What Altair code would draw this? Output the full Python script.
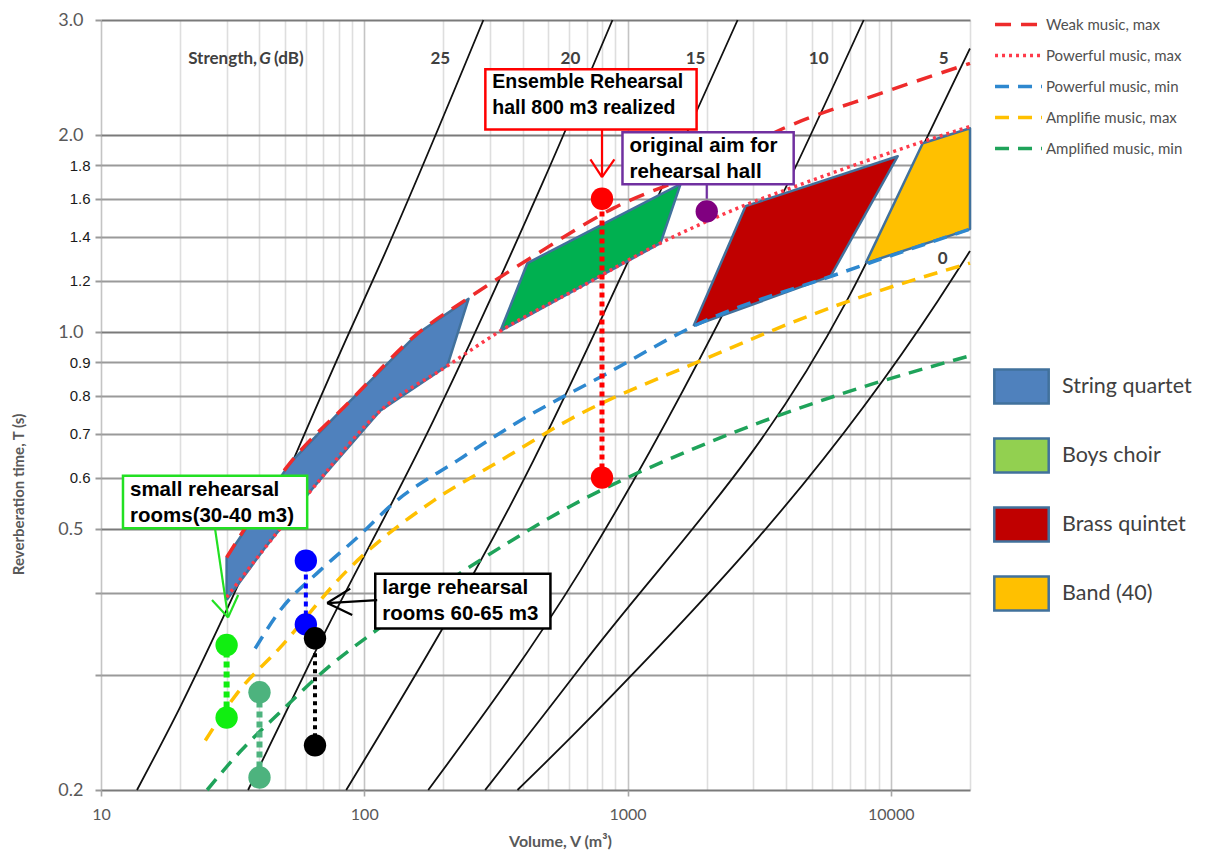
import altair as alt
import pandas as pd

# ---------------- axis ticks ----------------
x_ticks = [10, 20, 30, 40, 50, 60, 70, 80, 90,
           100, 200, 300, 400, 500, 600, 700, 800, 900,
           1000, 2000, 3000, 4000, 5000, 6000, 7000, 8000, 9000,
           10000, 20000]
x_labelled = [10, 100, 1000, 10000]
y_ticks = [0.2, 0.3, 0.4, 0.5, 0.6, 0.7, 0.8, 0.9, 1.0, 1.2, 1.4, 1.6, 1.8, 2.0, 3.0]
y_big = [0.2, 0.5, 1.0, 2.0, 3.0]

# ---------------- strength (G) lines ----------------
g25_V = [13.7, 20.0, 29.1, 87.7, 115, 283.5]
g25_T = [0.2, 0.268, 0.367, 1.0, 1.272, 3.0]
g20_V = [36.2, 66.3, 183, 479, 877]
g20_T = [0.2, 0.330, 0.733, 1.702, 3.0]
g15_V = [85.4, 439, 1027, 2620]
g15_T = [0.2, 0.637, 1.308, 3.0]
g10_V = [175, 663, 3815, 7895]
g10_T = [0.2, 0.433, 1.603, 3.0]
g5_V = [288, 663, 6804, 14700, 20000]
g5_T = [0.2, 0.308, 1.117, 2.10, 2.714]
g0_V = [382, 663, 15090, 20000]
g0_T = [0.2, 0.249, 1.117, 1.331]

g_label_text = ["25", "20", "15", "10", "5", "0"]
g_label_V = [194.5, 607, 1814, 5324, 15900, 15750]
g_label_T = [2.612, 2.612, 2.612, 2.612, 2.612, 1.294]

# ---------------- music curves ----------------
curve_names = ["Weak music, max", "Powerful music, max", "Powerful music, min",
               "Amplifie music, max", "Amplified music, min"]
weak_max_V = [30, 52.3, 88.5, 159, 249, 428, 885, 1895, 3920, 9160, 20000]
weak_max_T = [0.453, 0.632, 0.786, 0.995, 1.129, 1.299, 1.548, 1.762, 2.05, 2.318, 2.576]
pow_max_V = [30, 42, 64, 115, 207, 329, 663, 1335, 1895, 2860, 4167, 13350, 20000]
pow_max_T = [0.394, 0.469, 0.579, 0.759, 0.889, 1.005, 1.173, 1.369, 1.463, 1.570, 1.661, 1.958, 2.063]
pow_min_V = [38.5, 47.9, 68.0, 94.1, 128.9, 225.7, 402.4, 803, 1895, 6288, 20000]
pow_min_T = [0.329, 0.376, 0.433, 0.486, 0.548, 0.637, 0.738, 0.858, 1.034, 1.228, 1.438]
amp_max_V = [24.9, 32.9, 47.9, 86.2, 183, 329, 591, 1895, 6455, 20000]
amp_max_T = [0.238, 0.281, 0.330, 0.433, 0.553, 0.637, 0.733, 0.905, 1.105, 1.276]
amp_min_V = [25.3, 33.8, 47.9, 72.3, 108.2, 246.4, 662.8, 1895, 7044, 20000]
amp_min_T = [0.2, 0.229, 0.263, 0.307, 0.348, 0.436, 0.553, 0.671, 0.814, 0.921]

# ---------------- ensemble regions ----------------
ens_names = ["String quartet", "Boys choir", "Brass quintet", "Band (40)"]
string_V = [30, 30, 52.3, 88.5, 159, 249, 206.8, 115, 64, 42, 30]
string_T = [0.390, 0.453, 0.632, 0.786, 0.995, 1.125, 0.889, 0.759, 0.579, 0.469, 0.390]
choir_V = [328.9, 416.7, 1590, 1335, 328.9]
choir_T = [1.005, 1.276, 1.684, 1.369, 1.005]
brass_V = [1782, 2810, 10630, 5915, 1782]
brass_T = [1.023, 1.559, 1.858, 1.219, 1.023]
band_V = [8034, 13230, 20000, 20000, 8034]
band_T = [1.276, 1.945, 2.05, 1.438, 1.276]

# ---------------- rooms (measured / target points) ----------------
realized_V = [800, 800]
realized_T = [1.6, 0.6]
aim_V = [2000]
aim_T = [1.53]
small30_V = [30, 30]
small30_T = [0.333, 0.258]
small40_V = [40, 40]
small40_T = [0.282, 0.209]
large60_V = [60, 60]
large60_T = [0.448, 0.358]
large65_V = [65, 65]
large65_T = [0.341, 0.234]

# ---------------- annotation boxes ----------------
box_labels = ["Ensemble Rehearsal\nhall 800 m3 realized",
              "original aim for\nrehearsal hall",
              "small rehearsal\nrooms(30-40 m3)",
              "large rehearsal\nrooms 60-65 m3"]
box_V1 = [288.4, 957, 12.12, 110.1]
box_V2 = [1830, 4278, 60.7, 509.6]
box_T1 = [2.522, 2.021, 0.604, 0.428]
box_T2 = [2.042, 1.684, 0.502, 0.353]

# arrows (segments)
red_arrow_V1 = [800, 723, 892]
red_arrow_T1 = [2.042, 1.838, 1.838]
red_arrow_V2 = [800, 800, 800]
red_arrow_T2 = [1.726, 1.726, 1.726]
purple_arrow_V1 = [2000]
purple_arrow_T1 = [1.684]
purple_arrow_V2 = [2000]
purple_arrow_T2 = [1.60]
green_arrow_V1 = [27.1, 26.4, 33.2]
green_arrow_T1 = [0.502, 0.390, 0.397]
green_arrow_V2 = [30.4, 30.4, 30.4]
green_arrow_T2 = [0.367, 0.367, 0.367]
black_arrow_V1 = [112, 88.5, 90]
black_arrow_T1 = [0.390, 0.406, 0.370]
black_arrow_V2 = [72.3, 72.3, 72.3]
black_arrow_T2 = [0.386, 0.386, 0.386]


def frame(V, T, **kw):
    d = {"V": V, "T": T}
    for k, v in kw.items():
        d[k] = v if isinstance(v, list) else [v] * len(V)
    return pd.DataFrame(d)


# ---------------- scales / axes ----------------
decade_test = "indexof([10,100,1000,10000], datum.value) >= 0"
big_test = "indexof([0.2,0.5,1,2,3], datum.value) >= 0"

xaxis = alt.Axis(
    values=x_ticks,
    labelExpr="indexof([10,100,1000,10000], datum.value) >= 0 ? format(datum.value, 'd') : ''",
    grid=True,
    gridColor={"condition": {"test": decade_test, "value": "#c4c4c4"}, "value": "#dedede"},
    gridWidth=1.6,
    domain=False,
    ticks=True,
    tickSize=6,
    tickColor={"condition": {"test": decade_test, "value": "#a6a6a6"}, "value": "transparent"},
    tickWidth=1.6,
    labelFont="Lato", labelFontSize=16, labelColor="#595959",
    labelPadding=10, labelFlush=False, labelOverlap=False,
    title="Volume, V (m³)", titleFont="Lato", titleFontSize=16,
    titleFontWeight="bold", titleColor="#595959",
    titleX=459, titleY=51, titleBaseline="middle",
)
yaxis = alt.Axis(
    values=y_ticks,
    labelExpr="(datum.value == 0.3 || datum.value == 0.4) ? '' : format(datum.value, '.1f')",
    grid=True,
    gridColor={"condition": {"test": big_test, "value": "#7a7a7a"}, "value": "#9a9a9a"},
    gridWidth=2,
    domain=False,
    ticks=True, tickSize=6, tickColor="#9a9a9a", tickWidth=2,
    labelFont={"condition": {"test": big_test, "value": "Lato"}, "value": "Liberation Sans"},
    labelFontSize={"condition": {"test": big_test, "value": 18}, "value": 15},
    labelColor={"condition": {"test": big_test, "value": "#595959"}, "value": "#1a1a1a"},
    labelPadding={"condition": {"test": big_test, "value": 12}, "value": 5},
    labelFlush=False, labelOverlap=False,
    title="Reverberation time, T (s)", titleFont="Lato", titleFontSize=15,
    titleFontWeight="bold", titleColor="#595959",
    titleX=-83, titleY=474, titleBaseline="middle",
)
xs = alt.Scale(type="log", domain=[10, 20000], nice=False)
ys = alt.Scale(type="log", domain=[0.2, 3.0], nice=False)
X = alt.X("V:Q", scale=xs, axis=xaxis)
Y = alt.Y("T:Q", scale=ys, axis=yaxis)

layers = []

# G lines
g_df = pd.concat([
    frame(g25_V, g25_T, G="25"), frame(g20_V, g20_T, G="20"), frame(g15_V, g15_T, G="15"),
    frame(g10_V, g10_T, G="10"), frame(g5_V, g5_T, G="5"), frame(g0_V, g0_T, G="0"),
])
layers.append(alt.Chart(g_df).mark_line(color="#111111", strokeWidth=1.8, interpolate="monotone")
              .encode(x=X, y=Y, detail="G:N"))

# ensemble regions (filled polygons)
shape_styles = ["#4f81bd", "#00b050", "#c00000", "#ffc000"]
for (sv, st), fill in zip([(string_V, string_T), (choir_V, choir_T), (brass_V, brass_T), (band_V, band_T)],
                          shape_styles):
    d = frame(sv, st, i=list(range(len(sv))))
    layers.append(alt.Chart(d).mark_line(fill=fill, stroke="#41719c", strokeWidth=2.5,
                                         strokeJoin="round")
                  .encode(x=X, y=Y, order=alt.Order("i:Q")))

# music curves
curve_df = pd.concat([
    frame(weak_max_V, weak_max_T, series=curve_names[0]),
    frame(pow_max_V, pow_max_T, series=curve_names[1]),
    frame(pow_min_V, pow_min_T, series=curve_names[2]),
    frame(amp_max_V, amp_max_T, series=curve_names[3]),
    frame(amp_min_V, amp_min_T, series=curve_names[4]),
])
curve_colors = ["#ee2b2b", "#ff3a4a", "#2e88cf", "#ffc000", "#1fa35a"]
curve_dashes = [[16, 10], [3, 4], [14, 9], [14, 9], [14, 9]]
line_legend = alt.Legend(title=None, orient="none", legendX=900, legendY=-13,
                         symbolType="M-1.5,0H1.5", symbolSize=980, symbolStrokeWidth=3.5,
                         labelFont="Lato", labelFontSize=15, labelColor="#505050",
                         rowPadding=5, labelOffset=10, padding=0)
layers.append(alt.Chart(curve_df).mark_line(strokeWidth=3.5, interpolate="monotone")
              .encode(x=X, y=Y,
                      color=alt.Color("series:N", scale=alt.Scale(domain=curve_names, range=curve_colors),
                                      legend=line_legend),
                      strokeDash=alt.StrokeDash("series:N",
                                                scale=alt.Scale(domain=curve_names, range=curve_dashes),
                                                legend=line_legend)))

# legend for ensembles (dummy, clipped points)
ens_legend_colors = ["#4f81bd", "#92d050", "#c00000", "#ffc000"]
ens_df = frame([1e6] * 4, [1.0] * 4, ensemble=ens_names)
ens_legend = alt.Legend(title=None, orient="none", legendX=902, legendY=348,
                        symbolType="M-1.6,-1H1.6V1H-1.6Z", symbolSize=1156,
                        symbolStrokeColor="#41719c", symbolStrokeWidth=2.5, symbolOpacity=1,
                        labelFont="Lato", labelFontSize=21.5, labelColor="#404040",
                        rowPadding=24, labelOffset=22, padding=0)
layers.append(alt.Chart(ens_df).mark_point(filled=True, clip=True)
              .encode(x=X, y=Y,
                      fill=alt.Fill("ensemble:N", scale=alt.Scale(domain=ens_names, range=ens_legend_colors),
                                    legend=ens_legend)))

# rooms: connectors and dots
rooms = [
    (realized_V, realized_T, "#ff0000", [5, 4], 5),
    (aim_V, aim_T, "#800080", None, 0),
    (small30_V, small30_T, "#11ee11", [6, 4], 6),
    (small40_V, small40_T, "#4db37e", [6, 4], 6),
    (large60_V, large60_T, "#0000ff", [5, 4], 4),
    (large65_V, large65_T, "#000000", [4, 4], 4),
]
for rv, rt, col, dash, w in rooms:
    d = frame(rv, rt)
    if len(rv) > 1:
        layers.append(alt.Chart(d).mark_line(color=col, strokeWidth=w, strokeDash=dash)
                      .encode(x=X, y=Y, order=alt.Order("T:Q")))
for rv, rt, col, dash, w in rooms:
    d = frame(rv, rt)
    layers.append(alt.Chart(d).mark_circle(color=col, size=500, opacity=1).encode(x=X, y=Y))

# annotation boxes
box_colors = ["#ff0000", "#7030a0", "#22e022", "#000000"]
box_font = [19.5, 20.5, 20.5, 20.5]
for i, col in enumerate(box_colors):
    d = pd.DataFrame({"V": [box_V1[i]], "V2": [box_V2[i]], "T": [box_T1[i]], "T2": [box_T2[i]],
                      "label": [box_labels[i]]})
    layers.append(alt.Chart(d).mark_rect(fill="white", stroke=col, strokeWidth=2.5)
                  .encode(x=X, y=Y, x2="V2:Q", y2="T2:Q"))
    layers.append(alt.Chart(d).mark_text(align="left", baseline="top", dx=7, dy=4,
                                         font="Liberation Sans", fontSize=box_font[i], fontWeight="bold",
                                         lineBreak="\n", lineHeight=26, color="#000000")
                  .encode(x=X, y=Y, text="label:N"))

# arrows
arrows = [
    (red_arrow_V1, red_arrow_T1, red_arrow_V2, red_arrow_T2, "#ff0000"),
    (purple_arrow_V1, purple_arrow_T1, purple_arrow_V2, purple_arrow_T2, "#7030a0"),
    (green_arrow_V1, green_arrow_T1, green_arrow_V2, green_arrow_T2, "#22e022"),
    (black_arrow_V1, black_arrow_T1, black_arrow_V2, black_arrow_T2, "#000000"),
]
for v1, t1, v2, t2, col in arrows:
    d = pd.DataFrame({"V": v1, "T": t1, "V2": v2, "T2": t2})
    layers.append(alt.Chart(d).mark_rule(color=col, strokeWidth=2.2)
                  .encode(x=X, y=Y, x2="V2:Q", y2="T2:Q"))

# strength labels
gl_df = pd.DataFrame({"V": g_label_V, "T": g_label_T, "label": g_label_text})
layers.append(alt.Chart(gl_df).mark_text(font="Lato", fontSize=17, fontWeight="bold", color="#404040")
              .encode(x=X, y=Y, text="label:N"))
st_df = pd.DataFrame({"V": [42.0], "T": [2.612]})
layers.append(alt.Chart(st_df).mark_text(font="Lato", fontSize=17, fontWeight="bold", color="#404040",
                                         align="right", dx=-8, text="Strength,")
              .encode(x=X, y=Y))
layers.append(alt.Chart(st_df).mark_text(font="Lato", fontSize=17, fontWeight="bold", color="#404040",
                                         fontStyle="italic", text="G")
              .encode(x=X, y=Y))
layers.append(alt.Chart(st_df).mark_text(font="Lato", fontSize=17, fontWeight="bold", color="#404040",
                                         align="left", dx=9, text="(dB)")
              .encode(x=X, y=Y))

chart = (alt.layer(*layers)
         .properties(width=869, height=770,
                     padding={"left": 93, "top": 12, "right": 226, "bottom": 60},
                     autosize=alt.AutoSizeParams(type="none"),
                     background="white")
         .configure_view(stroke=None))

chart.save("out.html", embed_options={"renderer": "svg", "actions": False})
